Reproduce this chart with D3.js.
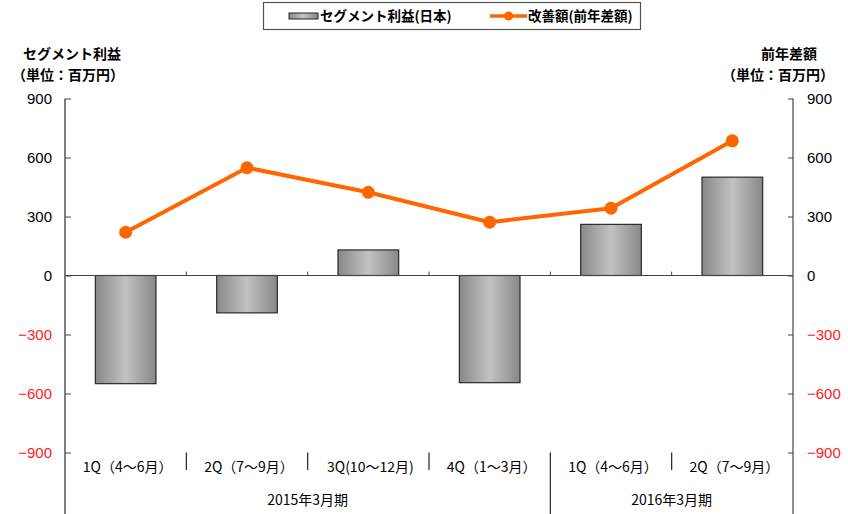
<!DOCTYPE html>
<html>
<head>
<meta charset="utf-8">
<script src="https://cdn.jsdelivr.net/npm/d3@7"></script>
<style>
  body { margin: 0; background: #fff; }
  svg { display: block; }
</style>
</head>
<body>
<script>
// data
const quarters = ["1Q（4～6月）", "2Q（7～9月）", "3Q(10～12月)", "4Q（1～3月）", "1Q（4～6月）", "2Q（7～9月）"];
const fiscalYears = [["2015年3月期", 0, 4], ["2016年3月期", 4, 6]];
const segmentProfit = [-550, -190, 130, -545, 260, 500];
const improvement = [220, 548, 423, 271, 342, 685];
const yTicks = [-900, -600, -300, 0, 300, 600, 900];

const width = 848, height = 514;
const plotLeft = 65, plotRight = 793, plotTop = 98.5, plotBottom = 452.5;
const jpFont = "'Noto Sans CJK JP', sans-serif";
const numFont = "'Liberation Sans', Arial, sans-serif";

const svg = d3.select("body").append("svg")
  .attr("width", width)
  .attr("height", height);

const defs = svg.append("defs");
const grad = defs.append("linearGradient").attr("id", "barGrad")
  .attr("x1", "0%").attr("x2", "100%").attr("y1", "0%").attr("y2", "0%");
grad.append("stop").attr("offset", "0%").attr("stop-color", "#888");
grad.append("stop").attr("offset", "50%").attr("stop-color", "#c2c2c2");
grad.append("stop").attr("offset", "100%").attr("stop-color", "#888");

const x = d3.scaleBand().domain(d3.range(quarters.length)).range([plotLeft, plotRight]).padding(0);
const y = d3.scaleLinear().domain([-900, 900]).range([plotBottom, plotTop]);
const y2 = d3.scaleLinear().domain([-900, 900]).range([plotBottom, plotTop]);

// bars
const barW = x.bandwidth() * 0.5;
svg.append("g")
  .selectAll("rect")
  .data(segmentProfit)
  .join("rect")
  .attr("x", (d, i) => x(i) + (x.bandwidth() - barW) / 2)
  .attr("y", d => y(Math.max(0, d)))
  .attr("width", barW)
  .attr("height", d => Math.abs(y(d) - y(0)))
  .attr("fill", "url(#barGrad)")
  .attr("stroke", "#2a2a2a")
  .attr("stroke-width", 1.2);

// zero line with small category ticks
svg.append("line")
  .attr("x1", plotLeft).attr("x2", plotRight)
  .attr("y1", y(0)).attr("y2", y(0))
  .attr("stroke", "#444").attr("stroke-width", 1.2);
svg.append("g")
  .selectAll("line")
  .data(d3.range(1, quarters.length))
  .join("line")
  .attr("x1", i => x(i)).attr("x2", i => x(i))
  .attr("y1", y(0) - 4).attr("y2", y(0))
  .attr("stroke", "#444");

// left axis
const gl = svg.append("g")
  .attr("transform", `translate(${plotLeft},0)`)
  .call(d3.axisLeft(y).tickValues(yTicks).tickSize(-6).tickPadding(13));
gl.select(".domain").remove();
gl.selectAll(".tick line").attr("stroke", "#444");
gl.selectAll(".tick text")
  .attr("font-family", numFont).attr("font-size", 15)
  .attr("fill", d => d < 0 ? "#ff2020" : "#000");
svg.append("line")
  .attr("x1", plotLeft).attr("x2", plotLeft).attr("y1", plotTop).attr("y2", height)
  .attr("stroke", "#555").attr("stroke-width", 1.5);

// right axis
const gr = svg.append("g")
  .attr("transform", `translate(${plotRight},0)`)
  .call(d3.axisRight(y2).tickValues(yTicks).tickSize(-5).tickPadding(14));
gr.select(".domain").remove();
gr.selectAll(".tick line").attr("stroke", "#444");
gr.selectAll(".tick text")
  .attr("font-family", numFont).attr("font-size", 15)
  .attr("fill", d => d < 0 ? "#ff2020" : "#000");
svg.append("line")
  .attr("x1", plotRight).attr("x2", plotRight).attr("y1", plotTop).attr("y2", height)
  .attr("stroke", "#444").attr("stroke-width", 1.2);

// line series
const line = d3.line()
  .x((d, i) => x(i) + x.bandwidth() / 2)
  .y(d => y2(d));
svg.append("path")
  .datum(improvement)
  .attr("fill", "none")
  .attr("stroke", "#ff6600")
  .attr("stroke-width", 4)
  .attr("stroke-linejoin", "round")
  .attr("d", line);
svg.append("g")
  .selectAll("circle")
  .data(improvement)
  .join("circle")
  .attr("cx", (d, i) => x(i) + x.bandwidth() / 2)
  .attr("cy", d => y2(d))
  .attr("r", 6.5)
  .attr("fill", "#ff6600");

// category axis below
const cat = svg.append("g");
cat.selectAll("line.sep")
  .data(d3.range(1, quarters.length))
  .join("line")
  .attr("class", "sep")
  .attr("x1", i => x(i)).attr("x2", i => x(i))
  .attr("y1", plotBottom)
  .attr("y2", i => fiscalYears.some(f => f[1] === i) ? height : 470)
  .attr("stroke", "#222").attr("stroke-width", 1.2);
cat.selectAll("text.q")
  .data(quarters)
  .join("text")
  .attr("class", "q")
  .attr("x", (d, i) => x(i) + x.bandwidth() / 2 + 2)
  .attr("y", 472)
  .attr("text-anchor", "middle")
  .attr("font-family", jpFont)
  .attr("font-size", 14)
  .text(d => d);
cat.selectAll("text.fy")
  .data(fiscalYears)
  .join("text")
  .attr("class", "fy")
  .attr("x", d => (x(d[1]) + (d[2] < quarters.length ? x(d[2]) : plotRight)) / 2)
  .attr("y", 505)
  .attr("text-anchor", "middle")
  .attr("font-family", jpFont)
  .attr("font-size", 14)
  .text(d => d[0]);

// axis titles
const titles = [
  ["セグメント利益", 72, 59], ["（単位：百万円）", 68, 80],
  ["前年差額", 789, 59], ["（単位：百万円）", 778, 80]
];
svg.append("g")
  .selectAll("text")
  .data(titles)
  .join("text")
  .attr("x", d => d[1]).attr("y", d => d[2])
  .attr("text-anchor", "middle")
  .attr("font-family", jpFont)
  .attr("font-size", 14)
  .attr("font-weight", "bold")
  .text(d => d[0]);

// legend
const lg = svg.append("g");
lg.append("rect")
  .attr("x", 263.5).attr("y", 2.5).attr("width", 377).attr("height", 27)
  .attr("fill", "#fff").attr("stroke", "#555").attr("stroke-width", 1.2);
lg.append("rect")
  .attr("x", 289).attr("y", 13).attr("width", 29).attr("height", 6)
  .attr("fill", "url(#barGrad)").attr("stroke", "#222");
lg.append("text")
  .attr("x", 320).attr("y", 21)
  .attr("font-family", jpFont).attr("font-size", 13.5).attr("font-weight", "bold")
  .text("セグメント利益(日本)");
lg.append("line")
  .attr("x1", 490).attr("x2", 527).attr("y1", 16).attr("y2", 16)
  .attr("stroke", "#ff6600").attr("stroke-width", 3.5);
lg.append("circle")
  .attr("cx", 508.5).attr("cy", 16).attr("r", 4.5).attr("fill", "#ff6600");
lg.append("text")
  .attr("x", 528).attr("y", 21)
  .attr("font-family", jpFont).attr("font-size", 13.5).attr("font-weight", "bold")
  .text("改善額(前年差額)");
</script>
</body>
</html>
